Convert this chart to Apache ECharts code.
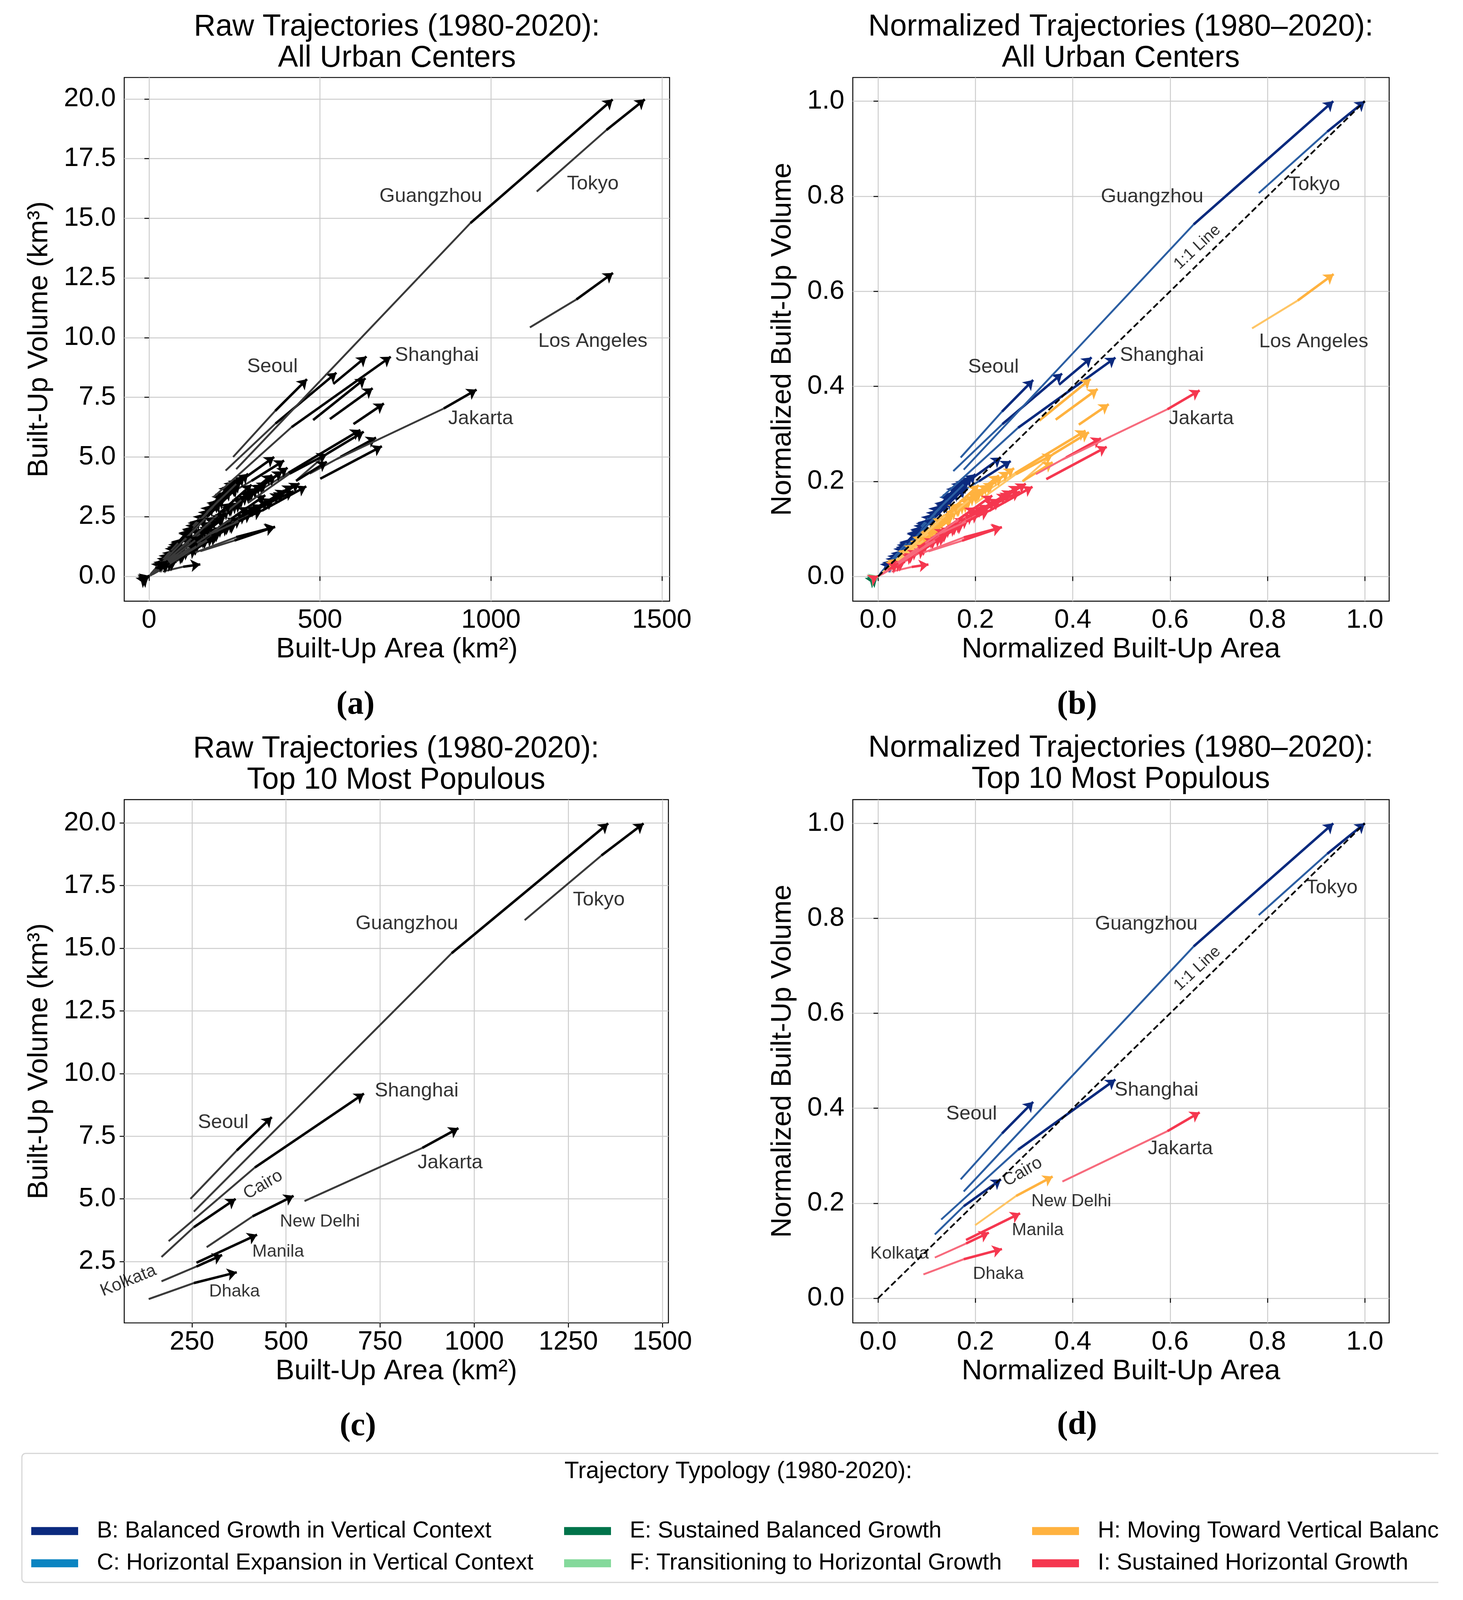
<!DOCTYPE html>
<html>
<head>
<meta charset="utf-8">
<title>Urban growth trajectories 1980-2020</title>
<script src="https://cdn.jsdelivr.net/npm/echarts@6.0.0/dist/echarts.min.js"></script>
<style>
  html, body { margin: 0; padding: 0; background: #fff; overflow: hidden; }
  #chart { width: 100vw; height: 100vh; }
</style>
</head>
<body>
<div id="chart"></div>
<script>
// ---- typologies, in legend order ----
const typeCodes = ['B', 'C', 'E', 'F', 'H', 'I'];
const typeLabels = [
  'B: Balanced Growth in Vertical Context',
  'C: Horizontal Expansion in Vertical Context',
  'E: Sustained Balanced Growth',
  'F: Transitioning to Horizontal Growth',
  'H: Moving Toward Vertical Balance',
  'I: Sustained Horizontal Growth'
];
const typeColors = ['#0b2a7e', '#0a84c1', '#00734a', '#84d99b', '#ffb23f', '#f5374f'];
const typeEarlyColors = ['#2b5ea2', '#4aa8d8', '#3d9a72', '#a9e6b8', '#ffc565', '#f76a7c'];

// ---- ten most populous centres: [built-up area km², built-up volume km³] per step ----
const topCities = ['Tokyo', 'Guangzhou', 'Shanghai', 'Seoul', 'Jakarta',
                   'Cairo', 'New Delhi', 'Manila', 'Kolkata', 'Dhaka'];
const topTypes = ['B', 'B', 'B', 'B', 'I', 'B', 'H', 'I', 'I', 'I'];
const topPaths = [
  [[1134, 16.12], [1338, 18.70], [1450, 19.98]],
  [[255, 4.49], [940, 14.80], [1356, 19.98]],
  [[188, 3.31], [417, 6.25], [707, 9.20]],
  [[246, 5.00], [369, 6.93], [462, 8.26]],
  [[549, 4.91], [862, 7.03], [958, 7.82]],
  [[169, 2.68], [255, 3.87], [366, 5.00]],
  [[289, 3.07], [411, 4.30], [520, 5.12]],
  [[262, 2.45], [423, 3.57]],
  [[169, 1.71], [262, 2.30], [330, 2.76]],
  [[135, 1.00], [255, 1.64], [369, 2.07]]
];

// ---- all other urban centres (first one is Los Angeles) ----
const otherTypes = [
  'H', 'B', 'B', 'H', 'H', 'H', 'H', 'H', 'I', 'I', 'B', 'I', 'I', 'I', 'B', 'H',
  'B', 'B', 'B', 'B', 'B', 'B', 'B', 'B', 'B', 'B', 'B', 'B',
  'H', 'H', 'H', 'H', 'H', 'H', 'H', 'H', 'H', 'H', 'H', 'H',
  'I', 'I', 'I', 'I', 'I', 'I', 'I', 'I', 'I', 'I', 'I',
  'B', 'B', 'B', 'B', 'B', 'B', 'B', 'B', 'B', 'B', 'B', 'B',
  'H', 'H', 'H', 'H', 'H', 'H', 'H', 'H', 'H', 'H', 'H', 'H',
  'I', 'I', 'I', 'I', 'I', 'I', 'I', 'I', 'I', 'I', 'I', 'I',
  'B', 'B', 'B', 'B', 'B', 'B', 'B', 'B', 'B', 'B', 'B', 'B', 'B',
  'H', 'H', 'H', 'H', 'H', 'H', 'H', 'H', 'H', 'H', 'H', 'H', 'H',
  'I', 'I', 'I', 'I', 'I', 'I', 'I', 'I', 'I', 'I', 'I', 'I',
  'B', 'B', 'B', 'B', 'H', 'H', 'H', 'H', 'H', 'H', 'I', 'I', 'I', 'B', 'H', 'I',
  'E', 'E', 'E', 'F', 'F', 'I'
];
const otherPaths = [
  [[1114, 10.43], [1250, 11.60], [1357, 12.71]],
  [[224, 4.43], [370, 6.40], [548, 8.53]],
  [[539, 8.06], [636, 9.21]],
  [[480, 6.55], [633, 8.30]],
  [[529, 6.59], [654, 7.88]],
  [[598, 6.38], [687, 7.24]],
  [[303, 3.41], [408, 4.34], [618, 6.13]],
  [[434, 4.06], [520, 5.13], [628, 6.06]],
  [[470, 4.30], [560, 5.00], [664, 5.81]],
  [[501, 4.09], [681, 5.45]],
  [[205, 3.20], [300, 4.00], [395, 4.85]],
  [[150, 1.05], [250, 1.50], [367, 2.07]],
  [[40, 0.20], [100, 0.40], [150, 0.50]],
  [[330, 2.75], [460, 3.77]],
  [[150, 2.30], [259, 3.94]],
  [[430, 4.00], [520, 4.80]],
  [[10, 0.15], [40, 0.62], [70, 1.10]],
  [[20, 0.30], [60, 0.95], [100, 1.55]],
  [[30, 0.45], [80, 1.25], [130, 2.05]],
  [[50, 0.80], [100, 1.60], [150, 2.40]],
  [[40, 0.65], [110, 1.75], [170, 2.60]],
  [[60, 1.00], [120, 1.90], [190, 2.95]],
  [[80, 1.30], [150, 2.35], [205, 3.10]],
  [[90, 1.45], [160, 2.45], [240, 3.60]],
  [[70, 1.10], [140, 2.15], [220, 3.25]],
  [[15, 0.25], [35, 0.55], [55, 0.85]],
  [[100, 1.50], [170, 2.50], [260, 3.75]],
  [[5, 0.08], [25, 0.40], [45, 0.70]],
  [[20, 0.25], [60, 0.75], [110, 1.35]],
  [[40, 0.50], [100, 1.25], [160, 1.95]],
  [[60, 0.75], [130, 1.60], [200, 2.40]],
  [[80, 1.00], [160, 1.95], [250, 2.95]],
  [[100, 1.25], [190, 2.30], [280, 3.30]],
  [[120, 1.45], [210, 2.50], [300, 3.50]],
  [[140, 1.70], [230, 2.70], [320, 3.70]],
  [[90, 1.10], [180, 2.10], [270, 3.10]],
  [[30, 0.35], [80, 0.95], [140, 1.65]],
  [[160, 1.90], [250, 2.90], [340, 3.85]],
  [[10, 0.12], [30, 0.35], [60, 0.70]],
  [[200, 2.40], [300, 3.50], [390, 4.40]],
  [[20, 0.20], [70, 0.65], [120, 1.10]],
  [[40, 0.38], [100, 0.95], [170, 1.60]],
  [[60, 0.55], [140, 1.30], [220, 2.05]],
  [[80, 0.75], [170, 1.60], [260, 2.45]],
  [[100, 0.95], [200, 1.90], [300, 2.80]],
  [[120, 1.10], [220, 2.05], [330, 3.00]],
  [[150, 1.35], [250, 2.30], [360, 3.25]],
  [[30, 0.25], [80, 0.65], [140, 1.15]],
  [[180, 1.65], [280, 2.60], [400, 3.60]],
  [[50, 0.40], [120, 1.00], [200, 1.70]],
  [[10, 0.08], [40, 0.32], [80, 0.62]],
  [[12, 0.20], [45, 0.72], [85, 1.35]],
  [[25, 0.42], [70, 1.15], [118, 1.90]],
  [[35, 0.60], [90, 1.50], [145, 2.35]],
  [[45, 0.75], [105, 1.70], [175, 2.80]],
  [[55, 0.90], [125, 2.00], [200, 3.20]],
  [[65, 1.05], [135, 2.20], [215, 3.45]],
  [[75, 1.20], [155, 2.50], [235, 3.80]],
  [[85, 1.40], [165, 2.70], [250, 4.00]],
  [[8, 0.12], [30, 0.50], [60, 0.98]],
  [[18, 0.30], [50, 0.82], [95, 1.52]],
  [[110, 1.70], [180, 2.80], [268, 3.92]],
  [[130, 2.00], [200, 3.10], [290, 4.30]],
  [[15, 0.18], [50, 0.60], [95, 1.15]],
  [[25, 0.30], [75, 0.90], [130, 1.55]],
  [[35, 0.42], [95, 1.15], [165, 1.98]],
  [[50, 0.60], [120, 1.45], [190, 2.30]],
  [[70, 0.85], [150, 1.80], [235, 2.80]],
  [[95, 1.15], [185, 2.20], [290, 3.40]],
  [[110, 1.30], [205, 2.45], [310, 3.60]],
  [[130, 1.55], [235, 2.75], [345, 3.95]],
  [[150, 1.80], [260, 3.05], [370, 4.20]],
  [[45, 0.55], [110, 1.30], [180, 2.10]],
  [[170, 2.00], [280, 3.25], [405, 4.55]],
  [[85, 1.00], [170, 2.00], [260, 3.05]],
  [[15, 0.12], [55, 0.48], [105, 0.92]],
  [[25, 0.22], [85, 0.75], [150, 1.30]],
  [[45, 0.40], [115, 1.00], [190, 1.65]],
  [[65, 0.58], [150, 1.35], [240, 2.15]],
  [[90, 0.82], [185, 1.70], [285, 2.60]],
  [[110, 1.00], [210, 1.95], [315, 2.90]],
  [[135, 1.22], [240, 2.20], [350, 3.15]],
  [[160, 1.45], [265, 2.45], [385, 3.45]],
  [[200, 1.80], [300, 2.70], [420, 3.80]],
  [[55, 0.50], [130, 1.15], [210, 1.85]],
  [[75, 0.65], [160, 1.40], [255, 2.20]],
  [[210, 1.90], [310, 2.75], [440, 3.90]],
  [[5, 0.10], [20, 0.35], [38, 0.62]],
  [[22, 0.38], [48, 0.80], [78, 1.28]],
  [[32, 0.55], [62, 1.02], [96, 1.58]],
  [[42, 0.70], [78, 1.30], [118, 1.95]],
  [[52, 0.88], [92, 1.52], [138, 2.25]],
  [[62, 1.00], [108, 1.78], [160, 2.62]],
  [[72, 1.18], [122, 2.00], [182, 2.98]],
  [[95, 1.55], [150, 2.45], [225, 3.55]],
  [[105, 1.68], [175, 2.75], [245, 3.85]],
  [[120, 1.90], [185, 2.90], [262, 4.10]],
  [[140, 2.20], [205, 3.20], [280, 4.20]],
  [[28, 0.50], [55, 0.92], [88, 1.45]],
  [[48, 0.82], [85, 1.40], [128, 2.10]],
  [[12, 0.15], [35, 0.42], [62, 0.75]],
  [[22, 0.28], [55, 0.68], [92, 1.12]],
  [[38, 0.45], [82, 0.98], [128, 1.55]],
  [[55, 0.66], [105, 1.28], [158, 1.90]],
  [[65, 0.80], [125, 1.50], [185, 2.20]],
  [[78, 0.95], [140, 1.70], [215, 2.60]],
  [[100, 1.20], [165, 1.98], [245, 2.95]],
  [[115, 1.38], [195, 2.35], [275, 3.25]],
  [[125, 1.50], [215, 2.55], [305, 3.55]],
  [[145, 1.72], [240, 2.85], [330, 3.85]],
  [[180, 2.15], [270, 3.20], [360, 4.25]],
  [[60, 0.70], [115, 1.35], [172, 2.02]],
  [[88, 1.05], [150, 1.78], [225, 2.65]],
  [[12, 0.10], [40, 0.35], [72, 0.62]],
  [[22, 0.20], [62, 0.55], [110, 0.96]],
  [[35, 0.30], [90, 0.80], [148, 1.30]],
  [[52, 0.45], [110, 0.98], [175, 1.55]],
  [[70, 0.62], [135, 1.20], [205, 1.82]],
  [[85, 0.78], [160, 1.45], [235, 2.10]],
  [[105, 0.95], [180, 1.62], [270, 2.42]],
  [[125, 1.12], [205, 1.85], [300, 2.65]],
  [[145, 1.30], [230, 2.05], [330, 2.92]],
  [[170, 1.52], [255, 2.28], [365, 3.20]],
  [[190, 1.72], [290, 2.60], [395, 3.50]],
  [[95, 0.85], [170, 1.50], [250, 2.25]],
  [[20, 0.30], [70, 1.04], [125, 1.85]],
  [[40, 0.60], [100, 1.48], [165, 2.44]],
  [[60, 0.89], [130, 1.92], [210, 3.10]],
  [[90, 1.33], [170, 2.50], [255, 3.78]],
  [[20, 0.26], [75, 0.96], [135, 1.73]],
  [[45, 0.58], [115, 1.47], [195, 2.50]],
  [[70, 0.90], [150, 1.92], [240, 3.07]],
  [[110, 1.40], [200, 2.56], [300, 3.84]],
  [[25, 0.28], [85, 0.95], [150, 1.68]],
  [[55, 0.62], [135, 1.51], [220, 2.46]],
  [[100, 1.00], [190, 1.90], [290, 2.90]],
  [[40, 0.40], [120, 1.20], [200, 2.00]],
  [[140, 1.40], [240, 2.40], [340, 3.40]],
  [[2, 0.03], [20, 0.30], [45, 0.60]],
  [[3, 0.03], [25, 0.30], [55, 0.65]],
  [[5, 0.04], [30, 0.28], [60, 0.55]],
  [[-18, -0.16], [-12, -0.11], [-6, -0.05]],
  [[-15, -0.12], [-8, -0.08], [0, 0.00]],
  [[-14, -0.14], [-9, -0.10], [-3, -0.02]],
  [[-10, -0.06], [-5, -0.02], [2, 0.02]],
  [[-12, -0.08], [-6, -0.05], [0, -0.01]],
  [[-16, -0.10], [-8, -0.04], [0, 0.02]]
];

// ---- axis ticks ----
const rawAreaTicksAll = [0, 500, 1000, 1500];
const rawAreaTicksTop = [250, 500, 750, 1000, 1250, 1500];
const rawVolTicksAll = [0, 2.5, 5, 7.5, 10, 12.5, 15, 17.5, 20];
const rawVolTicksTop = [2.5, 5, 7.5, 10, 12.5, 15, 17.5, 20];
const normTicks = [0, 0.2, 0.4, 0.6, 0.8, 1.0];

// ---- text labels placed in data space: [text, x, y, fontSize, rotate] ----
const labelsA = [
  ['Guangzhou', 824, 15.91, 52], ['Tokyo', 1298, 16.43, 52], ['Los Angeles', 1298, 9.85, 52],
  ['Shanghai', 842, 9.26, 52], ['Seoul', 361, 8.78, 52], ['Jakarta', 970, 6.61, 52]
];
const labelsB = [
  ['Guangzhou', 0.563, 0.799, 52], ['Tokyo', 0.896, 0.824, 52], ['Los Angeles', 0.895, 0.494, 52],
  ['Shanghai', 0.583, 0.465, 52], ['Seoul', 0.237, 0.440, 52], ['Jakarta', 0.664, 0.332, 52],
  ['1:1 Line', 0.656, 0.693, 42, 43]
];
const labelsC = [
  ['Tokyo', 1331, 16.93, 52], ['Guangzhou', 821, 15.97, 52], ['Shanghai', 847, 9.31, 52],
  ['Seoul', 333, 8.04, 52], ['Jakarta', 936, 6.44, 52], ['Cairo', 439, 5.56, 46, 30],
  ['New Delhi', 590, 4.08, 46], ['Manila', 479, 2.89, 46], ['Kolkata', 81, 1.73, 46, 22],
  ['Dhaka', 363, 1.30, 46]
];
const labelsD = [
  ['Tokyo', 0.932, 0.864, 52], ['Guangzhou', 0.551, 0.788, 52], ['Shanghai', 0.572, 0.438, 52],
  ['Seoul', 0.192, 0.388, 52], ['Jakarta', 0.621, 0.315, 52], ['Cairo', 0.297, 0.266, 46, 30],
  ['New Delhi', 0.397, 0.204, 46], ['Manila', 0.328, 0.143, 46], ['Kolkata', 0.044, 0.094, 46],
  ['Dhaka', 0.247, 0.051, 46], ['1:1 Line', 0.656, 0.694, 42, 43]
];

const FONT = 'Liberation Sans';

// layout is designed on a 3745 x 4192 page and scaled to the actual viewport
const el = document.getElementById('chart');
const W = el.clientWidth || 3745;
const H = el.clientHeight || 4192;
const kx = W / 3745, ky = H / 4192, kf = Math.min(kx, ky);
const X = v => v * kx, Y = v => v * ky, S = v => v * kf;

// normalisation by the largest centre
const allPaths = otherPaths.concat(topPaths);
const allTypes = otherTypes.concat(topTypes);
const maxArea = Math.max(...allPaths.flat().map(p => p[0]));
const maxVol = Math.max(...allPaths.flat().map(p => p[1]));
const normalise = path => path.map(p => [p[0] / maxArea, p[1] / maxVol]);

// one item per segment; the last segment is darker and carries the arrow
function segments(path, early, late) {
  const out = [];
  for (let i = 0; i < path.length - 1; i++) {
    const last = i === path.length - 2;
    out.push({
      coords: [path[i], path[i + 1]],
      lineStyle: { color: last ? late : early, width: S(last ? 6.5 : 5), opacity: 1 },
      symbol: last ? ['none', 'arrow'] : 'none'
    });
  }
  return out;
}

function linesSeries(k, name, color, data) {
  return {
    type: 'lines', name: name, coordinateSystem: 'cartesian2d',
    xAxisIndex: k, yAxisIndex: k, silent: true, z: 3,
    symbol: 'none', symbolSize: [S(18), S(25)],
    lineStyle: { color: color, width: S(5), opacity: 1 },
    itemStyle: { color: color },
    data: data
  };
}

function rawSeries(k, paths) {
  const data = [];
  paths.forEach(p => data.push(...segments(p, '#3a3a3a', '#000000')));
  return linesSeries(k, 'raw' + k, '#000', data);
}

function typedSeries(k, paths, types) {
  return typeCodes.map((code, t) => {
    const data = [];
    paths.forEach((p, i) => {
      if (types[i] === code) data.push(...segments(normalise(p), typeEarlyColors[t], typeColors[t]));
    });
    return linesSeries(k, typeLabels[t], typeColors[t], data);
  });
}

function oneToOne(k) {
  return {
    type: 'line', xAxisIndex: k, yAxisIndex: k, silent: true, z: 5,
    symbol: 'none', data: [[0, 0], [1, 1]],
    lineStyle: { color: '#000', width: S(4.5), type: [S(16), S(8)] }
  };
}

function labelSeries(k, list) {
  return {
    type: 'scatter', xAxisIndex: k, yAxisIndex: k, silent: true, z: 10,
    symbolSize: 2, itemStyle: { color: 'rgba(0,0,0,0)' },
    label: { show: true, position: 'inside', color: '#000', fontFamily: FONT, formatter: p => p.name },
    data: list.map(l => ({
      name: l[0], value: [l[1], l[2]],
      label: { fontSize: S(l[3]), rotate: l[4] || 0 }
    }))
  };
}

function axis(k, min, max, ticks, name, gap, fmt, isY) {
  return {
    type: 'value', gridIndex: k, min: min, max: max,
    name: name, nameLocation: 'middle', nameGap: isY ? X(gap) : Y(gap),
    nameTextStyle: { fontSize: S(74), color: '#000', fontFamily: FONT },
    axisLine: { show: false },
    axisTick: { show: true, inside: false, length: S(12), customValues: ticks,
                lineStyle: { color: '#000', width: S(2.5) } },
    axisLabel: { customValues: ticks, formatter: fmt, fontSize: S(70), color: '#000',
                 fontFamily: FONT, margin: S(isY ? 22 : 16) },
    splitLine: { show: true, lineStyle: { color: '#cccccc', width: S(2.5) } }
  };
}
const fmt1 = v => v.toFixed(1);
const fmt0 = v => String(Math.round(v));

const grids = [
  [318, 203, 1396, 1372],
  [2183, 203, 1373, 1372],
  [318, 2095, 1393, 1371],
  [2183, 2095, 1373, 1371]
].map(g => ({
  show: true, borderColor: '#000', borderWidth: S(2.5), outerBoundsMode: 'none',
  left: X(g[0]), top: Y(g[1]), width: X(g[2]), height: Y(g[3])
}));

const titleStyle = { fontSize: S(79), fontWeight: 'normal', color: '#000', fontFamily: FONT, lineHeight: Y(82) };
const tagStyle = { fontSize: S(86), fontWeight: 'bold', color: '#000', fontFamily: 'Liberation Serif', lineHeight: S(86) };

function heading(text, cx, top, style) {
  return { text: text, left: X(cx), top: Y(top), textAlign: 'center', padding: 0, textStyle: style };
}

function legendColumn(left, idx) {
  return {
    orient: 'vertical', left: X(left), top: Y(3976), selectedMode: false,
    icon: 'rect', itemWidth: X(120), itemHeight: Y(21), itemGap: Y(24),
    textStyle: { fontSize: S(60), color: '#000', fontFamily: FONT, padding: [0, 0, 0, X(43)] },
    data: idx.map(i => ({ name: typeLabels[i], itemStyle: { color: typeColors[i], borderWidth: 0 } }))
  };
}

const option = {
  animation: false,
  backgroundColor: '#ffffff',
  title: [
    heading('Raw Trajectories (1980-2020):\nAll Urban Centers', 1016, 30, titleStyle),
    heading('Normalized Trajectories (1980\u20132020):\nAll Urban Centers', 2869, 30, titleStyle),
    heading('Raw Trajectories (1980-2020):\nTop 10 Most Populous', 1014, 1922, titleStyle),
    heading('Normalized Trajectories (1980\u20132020):\nTop 10 Most Populous', 2869, 1920, titleStyle),
    heading('(a)', 910, 1805, tagStyle),
    heading('(b)', 2757, 1805, tagStyle),
    heading('(c)', 916, 3695, tagStyle),
    heading('(d)', 2757, 3692, tagStyle),
    heading('Trajectory Typology (1980-2020):', 1890, 3825,
      { fontSize: S(62), fontWeight: 'normal', color: '#000', fontFamily: FONT, lineHeight: S(62) })
  ],
  legend: [
    legendColumn(75, [0, 1]),
    legendColumn(1439, [2, 3]),
    legendColumn(2637, [4, 5])
  ],
  grid: grids,
  xAxis: [
    axis(0, -72.5, 1522.5, rawAreaTicksAll, 'Built-Up Area (km\u00b2)', 90, fmt0, false),
    axis(1, -0.052, 1.05, normTicks, 'Normalized Built-Up Area', 90, fmt1, false),
    axis(2, 70, 1516, rawAreaTicksTop, 'Built-Up Area (km\u00b2)', 90, fmt0, false),
    axis(3, -0.052, 1.05, normTicks, 'Normalized Built-Up Area', 90, fmt1, false)
  ],
  yAxis: [
    axis(0, -1.04, 20.9, rawVolTicksAll, 'Built-Up Volume (km\u00b3)', 181, fmt1, true),
    axis(1, -0.052, 1.05, normTicks, 'Normalized Built-Up Volume', 143, fmt1, true),
    axis(2, 0.05, 20.93, rawVolTicksTop, 'Built-Up Volume (km\u00b3)', 181, fmt1, true),
    axis(3, -0.052, 1.05, normTicks, 'Normalized Built-Up Volume', 143, fmt1, true)
  ],
  graphic: [
    { type: 'rect', z: 0, shape: { x: X(56), y: Y(3808), width: X(3745), height: Y(338), r: S(10) },
      style: { fill: '#ffffff', stroke: '#d6d6d6', lineWidth: S(3) } },
    { type: 'rect', z: 100, shape: { x: X(3682), y: Y(3790), width: X(70), height: Y(402) },
      style: { fill: '#ffffff' } }
  ],
  series: [].concat(
    rawSeries(0, allPaths),
    typedSeries(1, allPaths, allTypes),
    oneToOne(1),
    rawSeries(2, topPaths),
    typedSeries(3, topPaths, topTypes),
    oneToOne(3),
    labelSeries(0, labelsA),
    labelSeries(1, labelsB),
    labelSeries(2, labelsC),
    labelSeries(3, labelsD)
  )
};

const chart = echarts.init(el);
chart.setOption(option);
</script>
</body>
</html>
